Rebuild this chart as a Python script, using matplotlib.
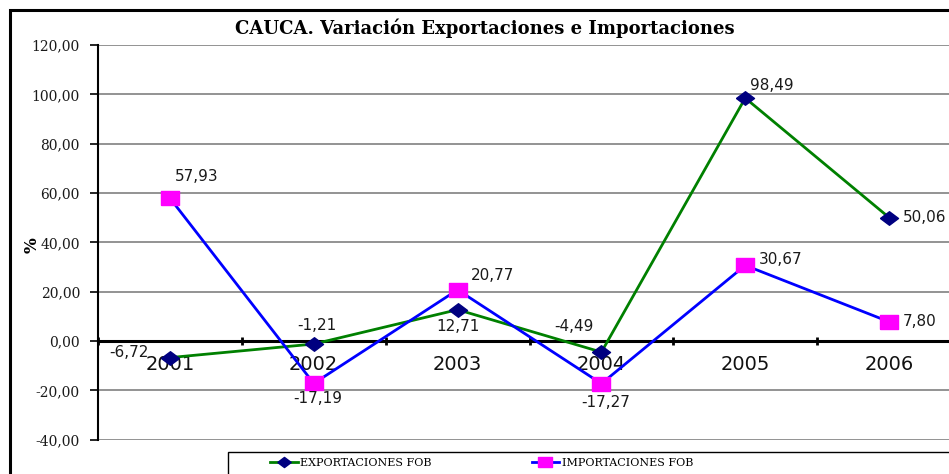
import matplotlib as mpl
import matplotlib.pyplot as plt
from matplotlib.patches import Rectangle
mpl.use('agg')

years = ['2001', '2002', '2003', '2004', '2005', '2006']
exportaciones = [-6.72, -1.21, 12.71, -4.49, 98.49, 50.06]
importaciones = [57.93, -17.19, 20.77, -17.27, 30.67, 7.80]
yticks = [-40, -20, 0, 20, 40, 60, 80, 100, 120]
yticklabels = ['-40,00', '-20,00', '0,00', '20,00', '40,00', '60,00', '80,00', '100,00', '120,00']

# label offsets in pixels (dx, dy)
exp_off = [(-41, 5), (3, 19), (0, -17), (-27, 26), (27, 13), (36, 0)]
imp_off = [(27, 22), (4, -15), (35, 14), (4, -19), (35, 6), (31, 0)]

dpi = 100
W, H = 949, 474
fig = plt.figure(dpi=dpi, figsize=(W / dpi, H / dpi))
ax = fig.add_axes([98 / W, 1 - 439.7 / H, (961 - 98) / W, (439.7 - 45) / H])

# spine position first: moving it resets the ticks
ax.spines['bottom'].set_position(('data', 0))
ax.spines['bottom'].set_linewidth(2.2)
ax.spines['left'].set_linewidth(1.5)
ax.spines['top'].set_visible(False)
ax.spines['right'].set_visible(False)

diamond = [(-1, 0), (0, 0.75), (1, 0), (0, -0.75), (-1, 0)]
square = [(-1, -0.75), (1, -0.75), (1, 0.75), (-1, 0.75), (-1, -0.75)]

x = list(range(len(years)))
l1, = ax.plot(x, exportaciones, color='#008000', lw=2, marker=diamond, ms=13,
              mfc='#000080', mec='#000080', zorder=3)
l2, = ax.plot(x, importaciones, color='#0000FF', lw=2, marker=square, ms=13,
              mfc='#FF00FF', mec='#FF00FF', zorder=3)

lab_font = dict(family='DejaVu Sans', size=11, color='#1a1a1a')
for i in x:
    ax.annotate(f'{exportaciones[i]:.2f}'.replace('.', ','), (i, exportaciones[i]),
                xytext=exp_off[i], textcoords='offset pixels', ha='center', va='center', **lab_font)
    ax.annotate(f'{importaciones[i]:.2f}'.replace('.', ','), (i, importaciones[i]),
                xytext=imp_off[i], textcoords='offset pixels', ha='center', va='center', **lab_font)

ax.set_xlim(-0.5, 5.5)
ax.set_ylim(-40, 120)
ax.set_yticks(yticks)
ax.set_yticklabels(yticklabels, family='DejaVu Serif', size=10, color='#1a1a1a')
ax.tick_params(axis='y', direction='out', length=6, width=1.2, pad=7)
ax.yaxis.grid(True, color='#808080', lw=1.2, zorder=1)

ax.set_xticks(x)
ax.set_xticklabels(years, family='DejaVu Sans', size=14, color='#111111')
ax.set_xticks([i - 0.5 for i in range(7)], minor=True)
ax.tick_params(axis='x', which='major', length=0, pad=10)
ax.tick_params(axis='x', which='minor', direction='inout', length=6, width=2)

fig.text(485 / W, 1 - 28 / H, 'CAUCA. Variación Exportaciones e Importaciones',
         ha='center', va='center', family='DejaVu Serif', weight='bold', size=13)
fig.text(32 / W, 1 - 245 / H, '%', rotation=90, ha='center', va='center',
         family='DejaVu Serif', weight='bold', size=12)

# outer chart frame and legend box
fig.add_artist(Rectangle((10 / W, -1), 2, 1 + 1 - 10 / H, transform=fig.transFigure,
                         fill=False, lw=2.2, color='black'))
fig.add_artist(Rectangle((228 / W, -1), 2, 1 + 1 - 452 / H, transform=fig.transFigure,
                         fill=False, lw=1, color='black'))

fig.legend([l1, l2], ['EXPORTACIONES FOB', 'IMPORTACIONES FOB'], loc='center left',
           bbox_to_anchor=(270 / W, 1 - 463 / H), ncol=2, frameon=False,
           handlelength=2.5, handletextpad=0.2, columnspacing=9, borderpad=0,
           borderaxespad=0, markerscale=0.75, prop=dict(family='DejaVu Serif', size=8))

plt.savefig('out.png', dpi=dpi)
